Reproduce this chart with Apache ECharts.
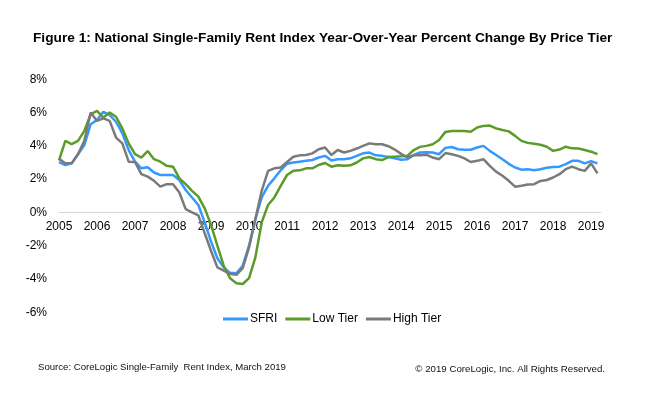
<!DOCTYPE html>
<html>
<head>
<meta charset="utf-8">
<script src="https://cdn.jsdelivr.net/npm/echarts@6/dist/echarts.min.js"></script>
<style>
  html, body { margin: 0; padding: 0; background: #fff; }
  #chart { width: 650px; height: 399px; }
</style>
</head>
<body>
<div id="chart"></div>
<script>
// Bi-monthly observations, Jan 2005 through Mar 2019 (decimal years)
const startYear = 2005;
const periodsPerYear = 6;
const yearTicks = [2005, 2006, 2007, 2008, 2009, 2010, 2011, 2012, 2013, 2014, 2015, 2016, 2017, 2018, 2019];
const yTickLabels = ['-6%', '-4%', '-2%', '0%', '2%', '4%', '6%', '8%'];

const sfri = [
  3.03, 2.85, 2.95, 3.5, 4.05, 5.3, 5.55, 6.05, 5.85, 5.45, 4.75, 3.75,
  3.05, 2.65, 2.72, 2.4, 2.25, 2.25, 2.25, 1.95, 1.35, 0.9, 0.45, -0.6,
  -1.75, -2.75, -3.3, -3.63, -3.66, -3.2, -2.0, -0.4, 0.9, 1.6, 2.05, 2.53,
  2.93, 3.0, 3.05, 3.1, 3.15, 3.3, 3.4, 3.12, 3.2, 3.2, 3.25, 3.4,
  3.55, 3.6, 3.43, 3.4, 3.33, 3.25, 3.17, 3.2, 3.45, 3.6, 3.62, 3.6,
  3.5, 3.88, 3.93, 3.8, 3.77, 3.77, 3.9, 4.0, 3.7, 3.45, 3.2, 2.92,
  2.7, 2.57, 2.6, 2.53, 2.6, 2.68, 2.73, 2.75, 2.9, 3.1, 3.1, 2.95,
  3.08, 2.95
];

const lowTier = [
  3.13, 4.3, 4.1, 4.3, 4.9, 5.9, 6.1, 5.7, 6.0, 5.75, 5.05, 4.15,
  3.5, 3.3, 3.69, 3.2, 3.05, 2.8, 2.75, 2.05, 1.7, 1.3, 0.95, 0.25,
  -0.75, -2.0, -3.2, -3.95, -4.25, -4.3, -3.95, -2.7, -0.6, 0.45, 0.9, 1.6,
  2.25, 2.5, 2.53, 2.65, 2.65, 2.85, 2.97, 2.75, 2.83, 2.8, 2.83, 3.0,
  3.25, 3.33, 3.2, 3.15, 3.33, 3.35, 3.37, 3.4, 3.75, 3.94, 4.0, 4.1,
  4.35, 4.84, 4.9, 4.9, 4.9, 4.85, 5.1, 5.2, 5.22, 5.05, 4.95, 4.87,
  4.6, 4.3, 4.18, 4.13, 4.07, 3.95, 3.7, 3.78, 3.95, 3.85, 3.84, 3.75,
  3.65, 3.5
];

const highTier = [
  3.23, 2.95, 2.95, 3.5, 4.3, 6.0, 5.5, 5.65, 5.5, 4.5, 4.15, 3.05,
  3.03, 2.3, 2.15, 1.9, 1.55, 1.7, 1.7, 1.2, 0.2, 0.0, -0.18, -1.25,
  -2.3, -3.3, -3.5, -3.69, -3.75, -3.35, -2.1, -0.4, 1.3, 2.5, 2.65, 2.7,
  3.03, 3.35, 3.43, 3.45, 3.55, 3.8, 3.9, 3.45, 3.75, 3.6, 3.7, 3.84,
  4.0, 4.15, 4.1, 4.1, 3.98, 3.78, 3.52, 3.3, 3.43, 3.43, 3.47, 3.3,
  3.2, 3.57, 3.5, 3.4, 3.25, 3.03, 3.1, 3.2, 2.8, 2.45, 2.2, 1.9,
  1.55, 1.6, 1.68, 1.7, 1.89, 1.95, 2.1, 2.3, 2.6, 2.75, 2.6, 2.5,
  2.95, 2.35
];

const seriesNames = ['SFRI', 'Low Tier', 'High Tier'];
const seriesColors = ['#3399FF', '#5B9B2A', '#7A7A7A'];

const periods = sfri.map((_, i) => startYear + i / periodsPerYear);
const toPairs = arr => arr.map((v, i) => [periods[i], v]);

const FONT = '"Liberation Sans", Arial, sans-serif';
const chart = echarts.init(document.getElementById('chart'), null, { renderer: 'canvas' });

// grid geometry
const gridTop = 79.3, gridBottom = 86.7, plotHeight = 399 - gridTop - gridBottom;
const yMin = -6, yMax = 8;
// offset to bring the x axis (labels + line) up to the 0% level
const zeroOffset = -plotHeight * (0 - yMin) / (yMax - yMin);

chart.setOption({
  animation: false,
  backgroundColor: '#ffffff',
  textStyle: { fontFamily: FONT },
  title: [
    {
      text: 'Figure 1: National Single-Family Rent Index Year-Over-Year Percent Change By Price Tier',
      left: 33, top: 31, padding: 0,
      textStyle: { fontFamily: FONT, fontSize: 13.7, fontWeight: 'bold', color: '#000' }
    },
    {
      text: 'Source: CoreLogic Single-Family  Rent Index, March 2019',
      left: 38, top: 362, padding: 0,
      textStyle: { fontFamily: FONT, fontSize: 9.6, fontWeight: 'normal', color: '#111' }
    },
    {
      text: '\u00A9 2019 CoreLogic, Inc. All Rights Reserved.',
      right: 45, top: 364, padding: 0,
      textStyle: { fontFamily: FONT, fontSize: 9.7, fontWeight: 'normal', color: '#111' }
    }
  ],
  legend: {
    data: seriesNames.map(n => ({ name: n, icon: 'rect' })),
    left: 223, top: 313, padding: 0,
    itemWidth: 25, itemHeight: 3, itemGap: 8,
    textStyle: { fontFamily: FONT, fontSize: 12, color: '#000', padding: [0, 0, 0, -3] }
  },
  grid: { left: 59, right: 49, top: gridTop, bottom: gridBottom, containLabel: false },
  xAxis: {
    type: 'value',
    min: startYear,
    max: 2019.26,
    interval: 1,
    offset: zeroOffset,
    axisLine: { onZero: false, lineStyle: { color: '#D9D9D9', width: 1 } },
    axisTick: { show: false },
    splitLine: { show: false },
    axisLabel: {
      color: '#000', fontFamily: FONT, fontSize: 12, margin: 8,
      showMaxLabel: false,
      formatter: v => (yearTicks.indexOf(Math.round(v)) >= 0 && Math.abs(v - Math.round(v)) < 1e-6) ? String(Math.round(v)) : ''
    }
  },
  yAxis: {
    type: 'value',
    min: yMin, max: yMax, interval: 2,
    axisLine: { show: false },
    axisTick: { show: false },
    splitLine: { show: false },
    axisLabel: {
      color: '#000', fontFamily: FONT, fontSize: 12, margin: 12,
      formatter: v => yTickLabels[yTickLabels.indexOf(v + '%')] || (v + '%')
    }
  },
  series: [sfri, lowTier, highTier].map((arr, k) => ({
    name: seriesNames[k],
    type: 'line',
    data: toPairs(arr),
    showSymbol: false,
    symbol: 'none',
    smooth: false,
    lineStyle: { color: seriesColors[k], width: 2.5 },
    itemStyle: { color: seriesColors[k] },
    z: 2 + k
  }))
});
</script>
</body>
</html>
